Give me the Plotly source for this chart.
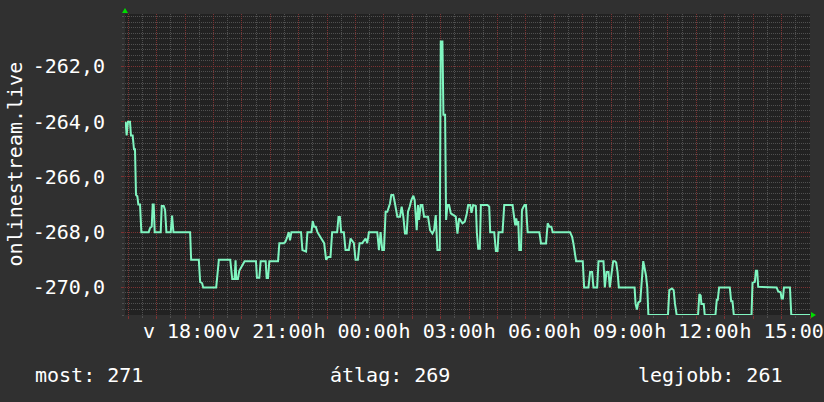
import plotly.graph_objects as go
from datetime import datetime, timedelta

# ---------------- data ----------------
base_time = "2024-06-02 16:00"          # Sunday (v) 16:00
range_start = "2024-06-02 15:53"
range_end = "2024-06-03 16:00"

hours_after_base = [
    -0.094, -0.059, -0.012, 0.059, 0.094, 0.153, 0.2, 0.235, 0.271, 0.318,
    0.353, 0.412, 0.459, 0.718, 0.765, 0.824, 0.859, 0.894, 0.929, 1.141,
    1.176, 1.247, 1.294, 1.341, 1.494, 1.541, 1.588, 2.176, 2.212, 2.482,
    2.529, 2.6, 2.635, 3.094, 3.141, 3.188, 3.588, 3.659, 3.741, 3.776,
    3.8, 3.859, 3.906, 4.0, 4.094, 4.494, 4.529, 4.612, 4.659, 4.835,
    4.871, 4.918, 4.965, 5.271, 5.318, 5.471, 5.529, 5.588, 5.647, 5.694,
    5.741, 6.082, 6.129, 6.259, 6.306, 6.447, 6.494, 6.541, 6.6, 6.659,
    6.753, 6.824, 6.894, 6.965, 7.035, 7.118, 7.176, 7.353, 7.4, 7.447,
    7.494, 7.588, 7.647, 7.765, 7.824, 7.941, 8.0, 8.082, 8.141, 8.235,
    8.294, 8.353, 8.412, 8.471, 8.765, 8.824, 8.882, 8.941, 9.0, 9.059,
    9.118, 9.212, 9.259, 9.329, 9.388, 9.471, 9.565, 9.624, 9.682, 9.741,
    9.8, 9.847, 9.906, 9.965, 10.035, 10.082, 10.153, 10.2, 10.235, 10.294,
    10.353, 10.412, 10.553, 10.624, 10.706, 10.765, 10.824, 10.882, 10.965, 11.0,
    11.059, 11.094, 11.153, 11.188, 11.235, 11.294, 11.353, 11.529, 11.588, 11.647,
    11.765, 11.847, 11.918, 11.965, 12.035, 12.082, 12.141, 12.235, 12.271, 12.318,
    12.376, 12.412, 12.647, 12.706, 12.741, 12.882, 12.941, 13.0, 13.035, 13.176,
    13.235, 13.529, 13.588, 13.624, 13.659, 13.694, 13.729, 13.765, 13.824, 13.859,
    13.906, 13.953, 14.0, 14.059, 14.471, 14.529, 14.706, 14.765, 14.824, 14.894,
    14.941, 15.553, 15.624, 15.671, 15.765, 16.0, 16.047, 16.2, 16.259, 16.329,
    16.376, 16.506, 16.553, 16.729, 16.776, 16.835, 16.906, 16.953, 17.012, 17.071,
    17.129, 17.176, 17.224, 17.27, 17.824, 17.859, 17.906, 17.953, 18.024, 18.071,
    18.129, 18.176, 18.224, 18.271, 18.31, 19.0, 19.047, 19.141, 19.2, 19.247,
    19.306, 20.059, 20.106, 20.153, 20.176, 20.259, 20.294, 20.671, 20.718, 20.753,
    20.8, 21.176, 21.224, 21.271, 21.318, 21.941, 21.976, 22.059, 22.094, 22.141,
    22.176, 22.824, 22.882, 22.965, 23.0, 23.047, 23.082, 23.294, 23.341, 24.059,
]

rank_values = [
    -264.0, -264.5, -264.0, -264.0, -264.5, -264.5, -265.0, -265.0, -266.65, -266.7,
    -267.0, -267.0, -268.0, -268.0, -267.85, -267.8, -267.0, -267.0, -268.0, -268.0,
    -267.05, -267.05, -267.2, -268.0, -268.0, -267.4, -268.0, -268.0, -269.0, -269.0,
    -269.8, -269.85, -270.0, -270.0, -269.5, -269.0, -269.0, -269.7, -269.7, -269.02,
    -269.7, -269.7, -269.4, -269.2, -269.05, -269.05, -269.65, -269.65, -269.05, -269.05,
    -269.66, -269.66, -269.05, -269.05, -268.4, -268.4, -268.35, -268.2, -268.0, -268.3,
    -268.0, -268.0, -268.65, -268.7, -268.0, -268.0, -267.6, -267.8, -267.8, -268.0,
    -268.15, -268.25, -268.4, -269.0, -268.9, -268.9, -268.0, -268.0, -267.45, -267.45,
    -268.0, -268.0, -268.65, -268.65, -268.23, -268.4, -269.0, -269.0, -268.4, -268.4,
    -268.3, -268.23, -268.4, -268.0, -268.0, -268.65, -268.0, -268.65, -268.65, -267.26,
    -267.26, -266.96, -266.65, -266.65, -266.96, -267.44, -267.44, -267.08, -267.44, -268.05,
    -268.05, -267.26, -267.08, -266.84, -266.68, -266.84, -267.93, -267.02, -267.56, -267.02,
    -267.02, -267.44, -267.44, -267.93, -268.05, -267.93, -267.38, -268.65, -268.65, -261.1,
    -261.1, -263.75, -263.75, -267.56, -267.02, -267.02, -267.32, -267.44, -268.05, -267.5,
    -267.68, -267.62, -267.32, -267.02, -267.02, -267.3, -267.02, -267.05, -268.0, -268.6,
    -268.6, -267.02, -267.02, -267.08, -268.0, -268.0, -268.68, -268.68, -268.0, -268.0,
    -267.02, -267.02, -267.5, -267.75, -267.5, -267.75, -267.6, -268.65, -268.65, -267.2,
    -267.1, -267.02, -267.02, -268.0, -268.0, -268.41, -268.41, -267.68, -267.8, -267.8,
    -268.0, -268.0, -268.17, -268.41, -269.05, -269.05, -270.0, -270.0, -269.44, -269.44,
    -270.0, -270.0, -269.05, -269.05, -270.0, -269.44, -269.44, -270.0, -269.5, -269.05,
    -269.05, -269.1, -269.44, -270.0, -270.0, -270.6, -270.8, -270.55, -270.5, -269.65,
    -269.05, -269.3, -269.56, -270.0, -271.0, -271.0, -270.1, -270.04, -270.1, -270.6,
    -271.0, -271.0, -270.24, -270.3, -270.6, -270.6, -271.0, -271.0, -270.45, -270.45,
    -270.0, -270.0, -270.5, -270.5, -271.0, -271.0, -269.84, -269.8, -269.4, -269.4,
    -269.98, -270.0, -270.15, -270.18, -270.4, -270.4, -270.0, -270.0, -271.0, -271.0,
]

x_tick_times = ["2024-06-02 18:00", "2024-06-02 21:00", "2024-06-03 00:00",
                "2024-06-03 03:00", "2024-06-03 06:00", "2024-06-03 09:00",
                "2024-06-03 12:00", "2024-06-03 15:00"]
x_tick_labels = ["v 18:00", "v 21:00", "h 00:00", "h 03:00",
                 "h 06:00", "h 09:00", "h 12:00", "h 15:00"]

y_tick_values = [-270, -268, -266, -264, -262]
y_tick_labels = ["-270,0", "-268,0", "-266,0", "-264,0", "-262,0"]
y_range = [-271.0, -260.1]

y_title = "onlinestream.live"
legend_texts = ["most: 271", "átlag: 269", "legjobb: 261"]

# ---------------- styling ----------------
FONT = "DejaVu Sans Mono"
PAPER_BG = "#303030"
PLOT_BG = "#222222"
MAJOR_GRID = "rgb(125,50,50)"
MINOR_GRID = "rgb(80,80,80)"
LINE_COLOR = "#80f5c0"
ARROW = "#00dd00"

base = datetime.fromisoformat(base_time)
times = [base + timedelta(hours=h) for h in hours_after_base]

# minor grid positions (half hours / 0.2 steps), skipping the major ones
x_start = datetime.fromisoformat(range_start)
minor_x = [base + timedelta(minutes=30 + 60 * k) for k in range(-1, 25)]
minor_x = [t for t in minor_x if t >= x_start]
minor_y = [round(-271 + 0.2 * k, 1) for k in range(0, 55)]
minor_y = [v for v in minor_y if abs(v - round(v)) > 1e-6 or int(round(v)) % 2 != 0]

fig = go.Figure()
fig.add_trace(go.Scatter(
    x=times, y=rank_values, mode="lines",
    line=dict(color=LINE_COLOR, width=2),
    hoverinfo="skip", showlegend=False,
))

fig.update_layout(
    width=824, height=402,
    margin=dict(l=125, r=14, t=14, b=87, autoexpand=False),
    paper_bgcolor=PAPER_BG, plot_bgcolor=PLOT_BG,
    font=dict(family=FONT, size=20, color="#ffffff"),
    showlegend=False,
    xaxis=dict(
        type="date", range=[range_start, range_end], automargin=False,
        tickmode="linear", tick0=base_time, dtick=3600000,
        showticklabels=False,
        showgrid=True, gridcolor=MAJOR_GRID, gridwidth=1, griddash="1px,1px",
        ticks="outside", ticklen=3, tickcolor=MAJOR_GRID,
        zeroline=False, showline=False,
        minor=dict(tickmode="array", tickvals=minor_x, showgrid=True,
                   gridcolor=MINOR_GRID, griddash="1px,1px",
                   ticks="outside", ticklen=2, tickcolor=MINOR_GRID),
    ),
    xaxis2=dict(
        type="date", range=[range_start, range_end], overlaying="x",
        anchor="y", side="bottom", automargin=False,
        tickmode="array", tickvals=x_tick_times, ticktext=x_tick_labels,
        tickangle=0, showgrid=False, zeroline=False, ticks="",
        tickfont=dict(family=FONT, size=20, color="#ffffff"),
        ticklabelstandoff=2,
    ),
    yaxis=dict(
        range=y_range, automargin=False,
        tickmode="array", tickvals=y_tick_values, ticktext=y_tick_labels,
        showgrid=True, gridcolor=MAJOR_GRID, gridwidth=1, griddash="1px,1px",
        ticks="outside", ticklen=3, tickcolor=MAJOR_GRID,
        zeroline=False, showline=False,
        tickfont=dict(family=FONT, size=20, color="#ffffff"),
        ticklabelstandoff=12,
        minor=dict(tickmode="array", tickvals=minor_y, showgrid=True,
                   gridcolor=MINOR_GRID, griddash="1px,1px",
                   ticks="outside", ticklen=2, tickcolor=MINOR_GRID),
    ),
)

# invisible trace to activate xaxis2
fig.add_trace(go.Scatter(x=[times[0]], y=[rank_values[0]], xaxis="x2",
                         mode="markers", marker=dict(opacity=0),
                         hoverinfo="skip", showlegend=False))

# y axis title (rotated)
fig.add_annotation(text=y_title, xref="paper", yref="paper",
                   x=-0.162, y=0.5, xanchor="center", yanchor="middle",
                   textangle=-90, showarrow=False,
                   font=dict(family=FONT, size=20, color="#ffffff"))

# legend line
legend_x = [-0.1343, 0.2964, 0.746]
for txt, lx in zip(legend_texts, legend_x):
    fig.add_annotation(text=txt, xref="paper", yref="paper",
                       x=lx, y=-0.199, xanchor="left", yanchor="middle",
                       showarrow=False,
                       font=dict(family=FONT, size=20, color="#ffffff"))

# axis arrows
fig.add_shape(type="path", xref="paper", yref="paper",
              xsizemode="pixel", ysizemode="pixel", xanchor=0, yanchor=1,
              path="M -3,1 L 3,1 L 0,6 Z", fillcolor=ARROW, line=dict(width=0))
fig.add_shape(type="path", xref="paper", yref="paper",
              xsizemode="pixel", ysizemode="pixel", xanchor=1, yanchor=0,
              path="M 1,-3 L 1,3 L 6,0 Z", fillcolor=ARROW, line=dict(width=0))

# snap 1px grid lines / ticks onto whole pixels so the dotted pattern is crisp
post = r"""
document.body.style.margin='0';
document.body.style.overflow='hidden';
document.querySelectorAll('path[class*="grid"], path[class*="tick"]').forEach(function(p){
  p.style.shapeRendering='crispEdges';
  var tx=0, ty=0;
  var t = p.getAttribute('transform');
  if(t){
    var m = t.match(/translate\(\s*([-0-9.e]+)[\s,]*([-0-9.e]*)\s*\)/);
    if(m){ tx = parseFloat(m[1]); ty = m[2] ? parseFloat(m[2]) : 0; }
  }
  var d = p.getAttribute('d') || '';
  var m2 = d.match(/^M\s*([-0-9.e]+)[\s,]+([-0-9.e]+)\s*([vhVH])\s*([-0-9.e]+)$/);
  if(!m2) return;
  var x = parseFloat(m2[1]) + tx, y = parseFloat(m2[2]) + ty;
  var dir = m2[3].toLowerCase();
  if(dir === 'v'){ x = Math.floor(x) + 0.5; y = Math.round(y); }
  else { y = Math.floor(y) + 0.5; x = Math.round(x); }
  p.removeAttribute('transform');
  p.setAttribute('d', 'M' + x + ',' + y + dir + m2[4]);
});
"""

fig.write_html("out.html", config={"displayModeBar": False}, post_script=post)
